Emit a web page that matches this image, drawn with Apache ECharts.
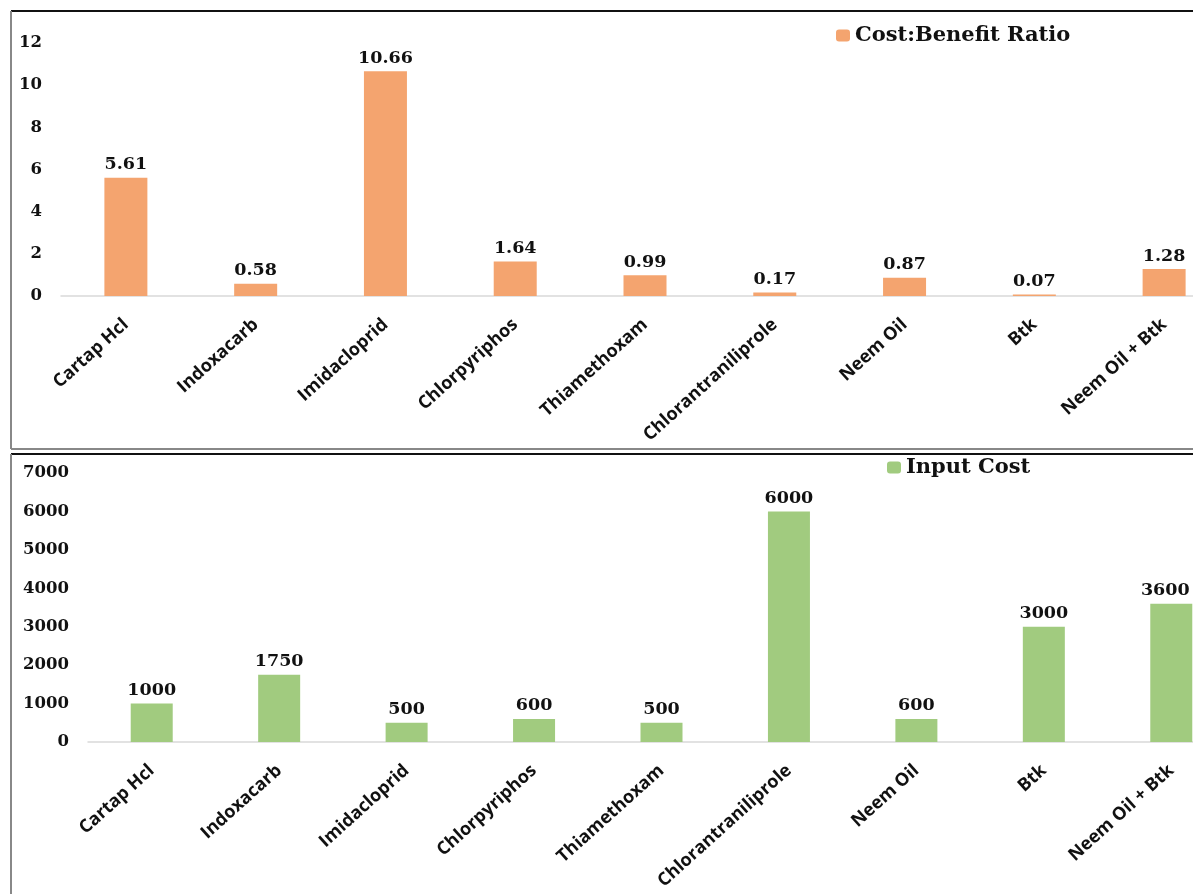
<!DOCTYPE html>
<html>
<head>
<meta charset="utf-8">
<script src="https://cdn.jsdelivr.net/npm/echarts@6/dist/echarts.min.js"></script>
<style>
html,body{margin:0;padding:0;background:#fff;}
#chart{width:1193px;height:894px;}
</style>
</head>
<body>
<div id="chart"></div>
<script>
var categories = ['Cartap Hcl','Indoxacarb','Imidacloprid','Chlorpyriphos','Thiamethoxam','Chlorantraniliprole','Neem Oil','Btk','Neem Oil + Btk'];
var costBenefit = [5.61, 0.58, 10.66, 1.64, 0.99, 0.17, 0.87, 0.07, 1.28];
var inputCost = [1000, 1750, 500, 600, 500, 6000, 600, 3000, 3600];
var ratioTicks = {min: 0, max: 12, interval: 2};
var costTicks = {min: 0, max: 7000, interval: 1000};

var serif = 'DejaVu Serif';
var sans = 'Open Sans';
var chart = echarts.init(document.getElementById('chart'));

function catAxis(gridIndex){
  return {
    type: 'category', gridIndex: gridIndex, data: categories,
    axisLine: {lineStyle: {color: '#D9D9D9', width: 1.5}},
    axisTick: {show: false},
    axisLabel: {rotate: 42, interval: 0, margin: 26, color: '#111', fontFamily: sans, fontWeight: 'bold', fontSize: 18}
  };
}
function valAxis(gridIndex, t){
  return {
    type: 'value', gridIndex: gridIndex, min: t.min, max: t.max, interval: t.interval,
    splitLine: {show: false}, axisLine: {show: false}, axisTick: {show: false},
    axisLabel: {margin: 19, color: '#111', fontFamily: serif, fontWeight: 'bold', fontSize: 16.5,
      formatter: function(v){ return String(v); }}
  };
}
var labelStyle = {show: true, position: 'top', distance: 4, color: '#111', fontFamily: serif, fontWeight: 'bold', fontSize: 17.5};

// keep the last label of the lower chart inside the picture, as in the reference
var inputCostData = inputCost.map(function(v, i){
  return i === inputCost.length - 1 ? {value: v, label: {offset: [-6, 0]}} : v;
});

chart.setOption({
  animation: false,
  grid: [
    {left: 61, top: 43, width: 1168, height: 253, outerBoundsMode: 'none', containLabel: false},
    {left: 88, top: 473, width: 1147, height: 269, outerBoundsMode: 'none', containLabel: false}
  ],
  legend: [
    {data: ['Cost:Benefit Ratio'], left: 836, top: 25, padding: 0, itemWidth: 14, itemHeight: 12, itemGap: 6,
     textStyle: {fontFamily: serif, fontWeight: 'bold', fontSize: 21, color: '#111'}},
    {data: ['Input Cost'], left: 887, top: 457, padding: 0, itemWidth: 14, itemHeight: 12, itemGap: 6,
     textStyle: {fontFamily: serif, fontWeight: 'bold', fontSize: 21, color: '#111'}}
  ],
  xAxis: [catAxis(0), catAxis(1)],
  yAxis: [valAxis(0, ratioTicks), valAxis(1, costTicks)],
  series: [
    {name: 'Cost:Benefit Ratio', type: 'bar', xAxisIndex: 0, yAxisIndex: 0, data: costBenefit, barWidth: 43,
     itemStyle: {color: '#F4A46F'}, label: labelStyle},
    {name: 'Input Cost', type: 'bar', xAxisIndex: 1, yAxisIndex: 1, data: inputCostData, barWidth: 42,
     itemStyle: {color: '#A1CB7F'}, label: labelStyle}
  ],
  graphic: [
    {type: 'line', shape: {x1: 11, y1: 11, x2: 1193, y2: 11}, style: {stroke: '#111', lineWidth: 2}},
    {type: 'line', shape: {x1: 11, y1: 11, x2: 11, y2: 449}, style: {stroke: '#888', lineWidth: 2}},
    {type: 'line', shape: {x1: 11, y1: 449, x2: 1193, y2: 449}, style: {stroke: '#888', lineWidth: 2}},
    {type: 'line', shape: {x1: 11, y1: 454, x2: 1193, y2: 454}, style: {stroke: '#111', lineWidth: 2}},
    {type: 'line', shape: {x1: 11, y1: 454, x2: 11, y2: 894}, style: {stroke: '#888', lineWidth: 2}}
  ]
});
</script>
</body>
</html>
